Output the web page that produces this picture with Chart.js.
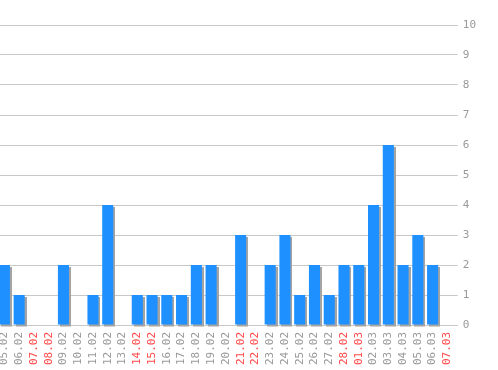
<!DOCTYPE html>
<html>
<head>
<meta charset="utf-8">
<script src="https://cdn.jsdelivr.net/npm/chart.js@4"></script>
<style>
  html, body { margin: 0; padding: 0; background: #fff; overflow: hidden; }
  #wrap { position: absolute; left: -3px; top: 0; width: 501px; height: 370px; }
</style>
</head>
<body>
<div id="wrap"><canvas id="chart"></canvas></div>
<script>
// dates shown under the bars
const days = ['05.02', '06.02', '07.02', '08.02', '09.02', '10.02', '11.02', '12.02', '13.02', '14.02',
    '15.02', '16.02', '17.02', '18.02', '19.02', '20.02', '21.02', '22.02', '23.02', '24.02',
    '25.02', '26.02', '27.02', '28.02', '01.03', '02.03', '03.03', '04.03', '05.03', '06.03', '07.03'];
const counts = [2, 1, 0, 0, 2, 0, 1, 4, 0, 1,
    1, 1, 1, 2, 2, 0, 3, 0, 2, 3,
    1, 2, 1, 2, 2, 4, 6, 2, 3, 2, 0];
// days printed in red
const redDays = ['07.02', '08.02', '14.02', '15.02', '21.02', '22.02', '28.02', '01.03', '07.03'];
const yMax = 10;

// grey shadow behind every bar
const barShadow = {
    id: 'barShadow',
    beforeDatasetsDraw(chart) {
        const ctx = chart.ctx;
        const meta = chart.getDatasetMeta(0);
        ctx.save();
        ctx.fillStyle = '#a4a4a4';
        meta.data.forEach(bar => {
            const p = bar.getProps(['x', 'y', 'base', 'width'], true);
            if (p.base - p.y < 1) return;
            ctx.fillRect(Math.round(p.x - p.width / 2) + 2, Math.round(p.y) + 2, Math.round(p.width), p.base - p.y);
        });
        ctx.restore();
    }
};

const monoFont = { family: 'DejaVu Sans Mono', size: 11 };

new Chart(document.getElementById('chart'), {
    type: 'bar',
    data: {
        labels: days,
        datasets: [{
            data: counts,
            backgroundColor: '#1e90ff',
            borderWidth: 0,
            barPercentage: 0.75,
            categoryPercentage: 1
        }]
    },
    options: {
        responsive: true,
        maintainAspectRatio: false,
        animation: false,
        layout: { padding: { top: 25, right: 17, left: 0, bottom: 0 } },
        plugins: { legend: { display: false }, tooltip: { enabled: false } },
        scales: {
            x: {
                grid: { display: false, tickLength: 7 },
                border: { display: false },
                afterFit: scale => { scale.height = 45; },
                ticks: {
                    minRotation: 90,
                    maxRotation: 90,
                    autoSkip: false,
                    padding: 0,
                    font: monoFont,
                    color: ctx => redDays.includes(days[ctx.index]) ? '#ff4a4a' : '#9a9a9a'
                }
            },
            y: {
                position: 'right',
                min: 0,
                max: yMax,
                grid: { color: '#c8c8c8', tickLength: 3 },
                border: { display: false },
                ticks: {
                    stepSize: 1,
                    padding: 5,
                    font: monoFont,
                    color: '#9a9a9a'
                }
            }
        }
    },
    plugins: [barShadow]
});
</script>
</body>
</html>
